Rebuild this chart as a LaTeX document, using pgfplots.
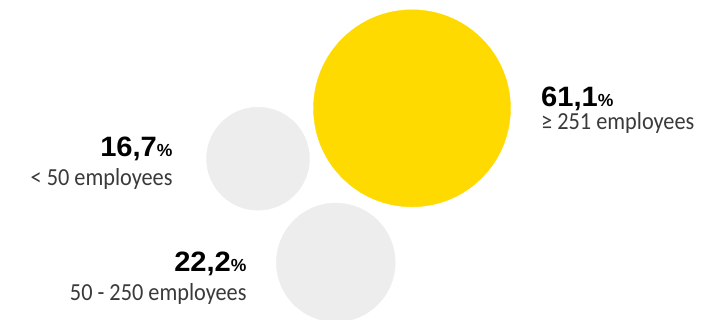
\documentclass[border=0pt]{standalone}
\usepackage{pgfplots}
\pgfplotsset{compat=1.18}
\usepackage{fontspec}
\setmainfont{Liberation Sans}
\newfontfamily\numfont{Liberation Sans}
\newfontfamily\lightfont{Carlito}
\definecolor{yel}{HTML}{FFDA00}
\definecolor{lgray}{HTML}{EDEDED}
\definecolor{txt}{HTML}{3A3A3A}
\newcommand{\bignum}[1]{\scalebox{1.04}[1]{\numfont\bfseries\fontsize{28}{28}\selectfont #1}{\numfont\bfseries\fontsize{17.5}{17.5}\selectfont\%}}
\newcommand{\lab}[1]{\scalebox{0.91}[1]{\lightfont\color{txt}\fontsize{24.5}{24.5}\selectfont #1}}
\begin{document}
\begin{tikzpicture}
\begin{axis}[hide axis, scale only axis, width=728pt, height=320pt,
  xmin=0, xmax=728, ymin=0, ymax=320, y dir=reverse,
  clip=true, clip marker paths=true]
\addplot[only marks, mark=*, color=yel, mark size=98.5pt, mark options={draw=none, fill=yel}] coordinates {(412,108.3)};
\addplot[only marks, mark=*, color=lgray, mark size=51.5pt, mark options={draw=none, fill=lgray}] coordinates {(258,158.7)};
\addplot[only marks, mark=*, color=lgray, mark size=59.4pt, mark options={draw=none, fill=lgray}] coordinates {(335.8,262.5)};
\node[anchor=base west, inner sep=0pt] at (axis cs:541,106.7) {\bignum{61,1}};
\node[anchor=base west, inner sep=0pt] at (axis cs:541,130) {\lab{≥ 251 employees}};
\node[anchor=base east, inner sep=0pt] at (axis cs:172.7,156.7) {\bignum{16,7}};
\node[anchor=base east, inner sep=0pt] at (axis cs:172.7,185.7) {\lab{< 50 employees}};
\node[anchor=base east, inner sep=0pt] at (axis cs:246.7,271.7) {\bignum{22,2}};
\node[anchor=base east, inner sep=0pt] at (axis cs:246.7,300.7) {\lab{50 - 250 employees}};
\end{axis}
\pgfresetboundingbox
\path[use as bounding box] (current axis.south west) rectangle (current axis.north east);
\end{tikzpicture}
\end{document}
